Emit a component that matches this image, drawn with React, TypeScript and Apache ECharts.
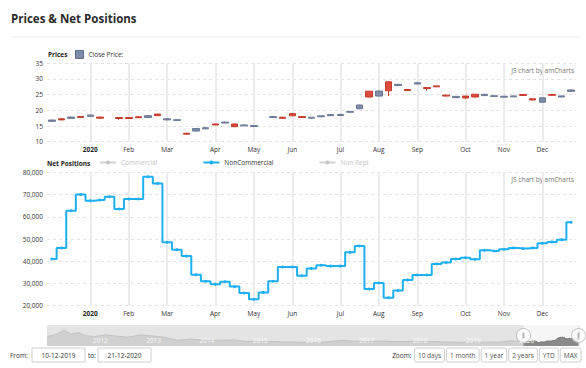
import React, { useEffect, useRef } from 'react';
import * as echarts from 'echarts';

// weekly categories (Tuesdays)
const dates = [
  '2019-12-10', '2019-12-17', '2019-12-24', '2019-12-31', '2020-01-07', '2020-01-14', '2020-01-21',
  '2020-01-28', '2020-02-04', '2020-02-11', '2020-02-18', '2020-02-25', '2020-03-03', '2020-03-10',
  '2020-03-17', '2020-03-24', '2020-03-31', '2020-04-07', '2020-04-14', '2020-04-21', '2020-04-28',
  '2020-05-05', '2020-05-12', '2020-05-19', '2020-05-26', '2020-06-02', '2020-06-09', '2020-06-16',
  '2020-06-23', '2020-06-30', '2020-07-07', '2020-07-14', '2020-07-21', '2020-07-28', '2020-08-04',
  '2020-08-11', '2020-08-18', '2020-08-25', '2020-09-01', '2020-09-08', '2020-09-15', '2020-09-22',
  '2020-09-29', '2020-10-06', '2020-10-13', '2020-10-20', '2020-10-27', '2020-11-03', '2020-11-10',
  '2020-11-17', '2020-11-24', '2020-12-01', '2020-12-08', '2020-12-15', '2020-12-22',
];

const priceOpen = [
  16.5, 17.3, 17.45, 18.05, 18.1, 17.85, null, 17.7, 17.7, 17.95, 17.7, 18.8, 16.95, 16.8,
  12.7, 13.4, 14.1, 15.65, 15.95, 15.65, 15.05, 14.85, null, 17.7, 17.8, 18.95, 18.0, 17.5,
  17.95, 18.3, 18.35, 19.4, 20.5, 26.1, 24.55, 29.1, 27.9, 26.65, 28.4, 27.25, 27.8, 24.85,
  24.05, 24.55, 25.15, 24.7, 24.45, 24.2, 24.3, 25.05, 23.7, 22.6, 25.05, 24.25, 26.05,
];
const priceClose = [
  16.9, 16.95, 17.85, 17.75, 18.5, 17.5, null, 17.4, 17.4, 17.65, 18.3, 18.3, 17.3, 17.0,
  12.4, 14.2, 14.45, 15.35, 16.25, 14.8, 15.35, 15.15, null, 18.0, 17.45, 18.25, 17.7, 17.8,
  18.25, 18.65, 18.7, 19.6, 21.7, 24.25, 26.15, 26.25, 28.3, 26.3, 28.8, 26.95, 27.5, 24.55,
  24.45, 23.95, 24.25, 25.1, 24.65, 24.5, 24.6, 24.75, 23.3, 24.0, 24.8, 24.6, 26.5,
];
const priceLow = [
  16.3, 16.85, 17.35, 17.65, 18.0, 17.4, null, 17.0, 17.3, 17.6, 17.6, 18.2, 16.9, 16.7,
  12.3, 13.2, 14.0, 15.3, 15.9, 14.6, 15.0, 14.8, null, 17.6, 17.4, 18.2, 17.65, 17.4,
  17.9, 18.25, 18.3, 19.3, 20.4, 24.1, 24.4, 24.6, 27.8, 26.2, 28.3, 26.3, 27.45, 24.5,
  24.0, 23.6, 24.2, 24.6, 24.4, 24.15, 24.25, 24.7, 23.25, 22.5, 24.75, 24.2, 26.0,
];
const priceHigh = [
  17.0, 17.4, 18.0, 18.1, 18.6, 17.9, null, 17.8, 17.75, 18.0, 18.4, 18.9, 17.4, 17.1,
  12.8, 14.3, 14.6, 15.7, 16.4, 15.7, 15.4, 15.2, null, 18.1, 17.9, 19.0, 18.05, 17.85,
  18.3, 18.7, 18.75, 19.7, 21.8, 26.2, 26.3, 29.2, 28.4, 26.7, 28.9, 27.3, 27.85, 24.9,
  24.5, 24.6, 25.2, 25.2, 24.7, 24.55, 24.65, 25.1, 23.75, 24.1, 25.1, 24.65, 26.6,
];

const nonCommercial = [
  41000, 46000, 62700, 70000, 67200, 67500, 69000, 63500, 68000, 68000, 78000, 75000, 48500, 45200,
  42300, 33900, 31000, 29700, 30800, 28600, 25700, 22900, 25900, 31000, 37400, 37400, 33500, 36700,
  38200, 37800, 37800, 44000, 46900, 27500, 30200, 23600, 26800, 31600, 33800, 33800, 38800, 39400,
  41000, 41600, 40900, 44900, 44600, 45400, 46000, 45700, 46000, 48100, 48700, 49700, 57500,
];

// long history shown in the scrollbar (year fraction, price)
const histYears = [
  2011.0, 2011.15, 2011.32, 2011.45, 2011.6, 2011.72, 2011.9, 2012.1, 2012.25, 2012.5, 2012.75,
  2013.0, 2013.2, 2013.45, 2013.7, 2014.0, 2014.25, 2014.5, 2014.75, 2015.0, 2015.25, 2015.5,
  2015.75, 2016.0, 2016.25, 2016.55, 2016.75, 2017.0, 2017.25, 2017.5, 2017.75, 2018.0, 2018.25,
  2018.5, 2018.75, 2019.0, 2019.25, 2019.5, 2019.7,
];
const histPrice = [
  30, 34, 46, 36, 40, 32, 30, 34, 32, 28, 34,
  31, 28, 20, 23, 20, 20, 21, 17, 16, 16.5, 15.5,
  15, 14, 16, 20, 17.5, 16.5, 18, 16.5, 17, 17, 16.5,
  15.5, 14.5, 15.5, 15, 15.5, 18.5,
];

const priceTicks = { min: 10, max: 35, interval: 5 };
const netTicks = { min: 20000, max: 80000, interval: 10000 };
const scrollYears = { min: 2011, max: 2021 };
const monthNames = ['Jan', 'Feb', 'Mar', 'Apr', 'May', 'Jun', 'Jul', 'Aug', 'Sep', 'Oct', 'Nov', 'Dec'];
const netLegend = ['Commercial', 'NonCommercial', 'Non Rept'];
const zoomButtons = ['10 days', '1 month', '1 year', '2 years', 'YTD', 'MAX'];
const fromDate = '10-12-2019';
const toDate = '21-12-2020';

const FONT = "'Open Sans', sans-serif";
const UP = '#7f8da9';
const DOWN = '#db4c3c';
const BLUE = '#1fb0f2';

function yearFrac(d: string) {
  const y = +d.slice(0, 4);
  const t = Date.UTC(y, +d.slice(5, 7) - 1, +d.slice(8, 10));
  const s = Date.UTC(y, 0, 1);
  const e = Date.UTC(y + 1, 0, 1);
  return y + (t - s) / (e - s);
}

function measure(text: string, size: number) {
  const c = document.createElement('canvas').getContext('2d');
  if (!c) return text.length * size * 0.55;
  c.font = `${size}px 'Open Sans'`;
  return c.measureText(text).width;
}

export default function App() {
  const ref = useRef<HTMLDivElement>(null);

  useEffect(() => {
    if (!ref.current) return;
    const chart = echarts.init(ref.current, null, { renderer: 'svg' });

    const monthStart = dates.map((d, i) => i > 0 && d.slice(5, 7) !== dates[i - 1].slice(5, 7));
    const monthLines = dates.filter((_, i) => monthStart[i]).map((d) => ({ xAxis: d }));

    const candles = dates.map((_, i) =>
      priceOpen[i] == null ? '-' : [priceOpen[i], priceClose[i], priceLow[i], priceHigh[i]]
    );

    const selData = dates
      .map((d, i) => (priceClose[i] == null ? null : [yearFrac(d), priceClose[i] as number]))
      .filter(Boolean) as number[][];
    const histData = histYears.map((y, i) => [y, histPrice[i]]).concat([selData[0]]);
    const scrollMin = 5;
    const scrollMax = 60;
    const mid = (scrollMin + scrollMax) / 2;
    const selStart = selData[0][0];
    const selEnd = selData[selData.length - 1][0];

    const xLabel = {
      fontSize: 6.5,
      color: '#333',
      margin: 4,
      interval: (i: number) => monthStart[i],
      formatter: (v: string) => {
        const m = +v.slice(5, 7);
        return m === 1 ? `{b|${v.slice(0, 4)}}` : `{m|${monthNames[m - 1]}}`;
      },
      rich: {
        b: { fontWeight: 'bold', fontSize: 6.5, color: '#222', fontFamily: FONT },
        m: { fontSize: 6.5, color: '#333', fontFamily: FONT },
      },
    };

    const markLine = {
      silent: true,
      symbol: 'none',
      z: 1,
      label: { show: false },
      lineStyle: { color: '#ececec', width: 2, type: 'solid' },
      data: monthLines,
    };

    const ySplit = { show: true, lineStyle: { color: '#e2e2e2', type: [3, 3], width: 1 } };

    // bottom controls
    const btnSize = 6.5;
    const widths = zoomButtons.map((b) => measure(b, btnSize) + 7);
    const gap = 2;
    let bx = 581 - widths.reduce((a, b) => a + b, 0) - gap * (widths.length - 1);
    const zoomStartX = bx;
    const btnGraphics: any[] = [];
    zoomButtons.forEach((b, i) => {
      btnGraphics.push({
        type: 'rect',
        shape: { x: bx, y: 348, width: widths[i], height: 14, r: 2 },
        style: { fill: '#fff', stroke: '#cfcfcf', lineWidth: 1 },
      });
      btnGraphics.push({
        type: 'text',
        x: bx + widths[i] / 2,
        y: 355,
        style: { text: b, fontSize: btnSize, fontFamily: FONT, fill: '#555', align: 'center', verticalAlign: 'middle' },
      });
      bx += widths[i] + gap;
    });

    const txt = (text: string, x: number, y: number, extra: any = {}) => ({
      type: 'text',
      x,
      y,
      style: { text, fontSize: 6.5, fontFamily: FONT, fill: '#333', align: 'left', verticalAlign: 'middle', ...extra },
    });

    const option: any = {
      animation: false,
      textStyle: { fontFamily: FONT },
      grid: [
        { left: 47, right: 10, top: 63.3, height: 78.4 },
        { left: 47, right: 10, top: 172.3, height: 133.4 },
        { left: 47, right: 6, top: 325, height: 21, show: true, backgroundColor: '#e4e4e4', borderWidth: 0 },
      ],
      legend: [
        {
          left: 75,
          top: 50,
          padding: 0,
          icon: 'rect',
          itemWidth: 8,
          itemHeight: 8,
          itemStyle: { borderColor: '#5f6d8a', borderWidth: 1 },
          data: ['Close Price'],
          formatter: (n: string) => n + ':',
          textStyle: { fontSize: 6.5, color: '#333', fontFamily: FONT },
          selectedMode: false,
        },
        {
          left: 99,
          top: 159,
          padding: 0,
          itemWidth: 16,
          itemHeight: 5,
          itemGap: 45,
          data: netLegend,
          selected: { [netLegend[0]]: false, [netLegend[2]]: false },
          inactiveColor: '#c4c4c4',
          textStyle: { fontSize: 6.5, color: '#333', fontFamily: FONT },
        },
      ],
      xAxis: [
        {
          type: 'category',
          gridIndex: 0,
          data: dates,
          boundaryGap: true,
          axisLine: { show: false },
          axisTick: { show: false },
          splitLine: { show: false },
          axisLabel: xLabel,
        },
        {
          type: 'category',
          gridIndex: 1,
          data: dates,
          boundaryGap: true,
          axisLine: { show: false },
          axisTick: { show: false },
          splitLine: { show: false },
          axisLabel: xLabel,
        },
        {
          type: 'value',
          gridIndex: 2,
          min: scrollYears.min,
          max: scrollYears.max,
          interval: 1,
          z: 10,
          axisLine: { show: false },
          axisTick: { show: false },
          splitLine: { show: false },
          axisLabel: {
            inside: true,
            margin: 2,
            fontSize: 6.5,
            color: '#fafafa',
            formatter: (v: number) => (v > scrollYears.min && v < scrollYears.max ? String(v) : ''),
          },
        },
      ],
      yAxis: [
        {
          type: 'value',
          gridIndex: 0,
          min: priceTicks.min,
          max: priceTicks.max,
          interval: priceTicks.interval,
          axisLine: { show: false },
          axisTick: { show: false },
          splitLine: ySplit,
          axisLabel: { fontSize: 6.5, color: '#333', margin: 4 },
        },
        {
          type: 'value',
          gridIndex: 1,
          min: netTicks.min,
          max: netTicks.max,
          interval: netTicks.interval,
          axisLine: { show: false },
          axisTick: { show: false },
          splitLine: ySplit,
          axisLabel: {
            fontSize: 6.5,
            color: '#333',
            margin: 4,
            formatter: (v: number) => v.toLocaleString('en-US'),
          },
        },
        {
          type: 'value',
          gridIndex: 2,
          min: scrollMin,
          max: scrollMax,
          show: false,
        },
      ],
      series: [
        {
          name: 'Close Price',
          type: 'candlestick',
          xAxisIndex: 0,
          yAxisIndex: 0,
          data: candles,
          barWidth: 7,
          itemStyle: { color: UP, color0: DOWN, borderColor: '#6a7896', borderColor0: '#c43a2b', borderWidth: 1 },
          markLine,
        },
        {
          name: netLegend[0],
          type: 'line',
          xAxisIndex: 1,
          yAxisIndex: 1,
          data: [],
          color: '#999',
          symbol: 'circle',
          symbolSize: 3,
        },
        {
          name: netLegend[1],
          type: 'line',
          xAxisIndex: 1,
          yAxisIndex: 1,
          data: nonCommercial,
          step: 'middle',
          color: BLUE,
          symbol: 'circle',
          symbolSize: 3,
          lineStyle: { width: 2, color: BLUE },
          itemStyle: { color: BLUE },
          markLine,
        },
        {
          name: netLegend[2],
          type: 'line',
          xAxisIndex: 1,
          yAxisIndex: 1,
          data: [],
          color: '#999',
          symbol: 'circle',
          symbolSize: 3,
        },
        {
          type: 'line',
          xAxisIndex: 2,
          yAxisIndex: 2,
          data: histData,
          symbol: 'none',
          silent: true,
          lineStyle: { color: '#c2c2c2', width: 1 },
          areaStyle: { color: '#d0d0d0', opacity: 1 },
        },
        {
          type: 'line',
          xAxisIndex: 2,
          yAxisIndex: 2,
          data: selData,
          symbol: 'none',
          silent: true,
          lineStyle: { color: '#707070', width: 1 },
          areaStyle: { color: '#8a8a8a', opacity: 1 },
          markArea: {
            silent: true,
            itemStyle: { color: '#f6f6f6' },
            data: [[{ xAxis: selStart }, { xAxis: selEnd }]],
          },
        },
        {
          type: 'scatter',
          xAxisIndex: 2,
          yAxisIndex: 2,
          z: 8,
          silent: true,
          data: [[selStart, mid], [selEnd, mid]],
          symbol: 'circle',
          symbolSize: 14,
          itemStyle: { color: '#fff', borderColor: '#b5b5b5', borderWidth: 1 },
        },
        {
          type: 'scatter',
          xAxisIndex: 2,
          yAxisIndex: 2,
          z: 9,
          silent: true,
          data: [[selStart, mid], [selEnd, mid]],
          symbol: 'rect',
          symbolSize: [2, 6],
          itemStyle: { color: '#a0a0a0' },
        },
      ],
      graphic: [
        {
          type: 'text',
          x: 11,
          y: 18,
          style: {
            text: 'Prices & Net Positions',
            fontSize: 11.5,
            fontWeight: 'bold',
            fontFamily: FONT,
            fill: '#2b2b2b',
            align: 'left',
            verticalAlign: 'middle',
          },
        },
        { type: 'line', shape: { x1: 11, y1: 37, x2: 580, y2: 37 }, style: { stroke: '#ececec', lineWidth: 1 } },
        txt('Prices', 48, 54.5, { fontWeight: 'bold', fill: '#222' }),
        txt('Net Positions', 47, 163.5, { fontWeight: 'bold', fill: '#222' }),
        txt('JS chart by amCharts', 574, 70.5, { align: 'right', fill: '#777' }),
        txt('JS chart by amCharts', 574, 179.5, { align: 'right', fill: '#777' }),
        txt('From:', 10, 355),
        { type: 'rect', shape: { x: 32, y: 348, width: 53, height: 14 }, style: { fill: '#fff', stroke: '#cfcfcf' } },
        txt(fromDate, 58.5, 355, { align: 'center' }),
        txt('to:', 88, 355),
        { type: 'rect', shape: { x: 98, y: 348, width: 53, height: 14 }, style: { fill: '#fff', stroke: '#cfcfcf' } },
        txt(toDate, 124.5, 355, { align: 'center' }),
        txt('Zoom:', zoomStartX - 3, 355, { align: 'right' }),
        ...btnGraphics,
      ],
    };

    chart.setOption(option);
    return () => chart.dispose();
  }, []);

  return <div ref={ref} style={{ position: 'absolute', left: 0, top: 0, width: 586, height: 368 }} />;
}
